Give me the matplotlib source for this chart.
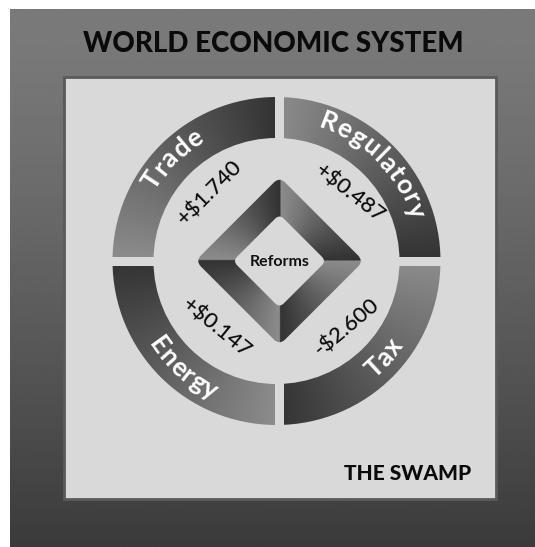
import numpy as np
import matplotlib
matplotlib.use("Agg")
import matplotlib.pyplot as plt
from matplotlib.patches import Circle, Rectangle, FancyBboxPatch
from matplotlib.font_manager import FontProperties
from matplotlib.textpath import TextToPath
from matplotlib.transforms import Affine2D

# data
categories = ["Trade", "Regulatory", "Tax", "Energy"]
impacts = [1.740, 0.487, -2.600, 0.147]
hub_label = "Reforms"
title = "WORLD ECONOMIC SYSTEM"
footer = "THE SWAMP"

# layout (pixels, y down)
W, H = 535, 547
cx, cy = 276.5, 261
r_out, r_in = 164, 123
gap_x, gap_y, gap = 279.5, 261, 9
dcx, dcy = 279.5, 261
label_ang = [135.5, 45, 318, 229]
label_top = [True, True, False, False]
value_pos = [(210, 193), (350, 194), (347, 327), (216, 328)]
value_rot = [45, -38, 40, -39]

panel_col = "#d9d9d9"
px = 100 / 72


def quad_shade(x, y, x0, y0, dark=0.2, light=0.55):
    phi = np.degrees(np.arctan2(y0 - y, x - x0)) % 360
    t = (phi % 90) / 90
    return dark + (light - dark) * t


def shaded(ax, x0, y0, half, clip, z):
    xs = np.arange(x0 - half, x0 + half + 1, 0.5)
    ys = np.arange(y0 - half, y0 + half + 1, 0.5)
    X, Y = np.meshgrid(xs, ys)
    im = ax.imshow(quad_shade(X, Y, x0, y0), cmap="gray", vmin=0, vmax=1,
                   extent=(xs[0], xs[-1], ys[-1], ys[0]), interpolation="bilinear", zorder=z)
    im.set_clip_path(clip)


def arc_text(ax, s, ang, r, top, size, spacing):
    fp = FontProperties(family="Lato", size=size, weight="bold")
    ttp = TextToPath()
    widths = [0.0] + [ttp.get_text_width_height_descent(s[:i], fp, ismath=False)[0] * px
                      for i in range(1, len(s) + 1)]
    total = widths[-1] + spacing * (len(s) - 1)
    for i, ch in enumerate(s):
        w = widths[i + 1] - widths[i]
        off = widths[i] + spacing * i + w / 2 - total / 2
        d = np.degrees(off / r)
        if top:
            phi = ang - d
            rot = phi - 90
        else:
            phi = ang + d
            rot = phi + 90
        x = cx + r * np.cos(np.radians(phi))
        y = cy - r * np.sin(np.radians(phi))
        ax.text(x, y, ch, rotation=rot, rotation_mode="anchor", ha="center", va="baseline",
                fontproperties=fp, color="white", zorder=6)


fig = plt.figure(figsize=(W / 100, H / 100), dpi=100)
ax = fig.add_axes([0, 0, 1, 1])

# outer frame with vertical gradient
fy = np.linspace(0, 1, 200)[:, None]
frame = 0.48 - 0.25 * fy ** 1.3
ax.imshow(np.repeat(frame, 2, axis=1), cmap="gray", vmin=0, vmax=1,
          extent=(10, W, H, 9), aspect="auto", interpolation="bilinear", zorder=0)

# light panel
ax.add_patch(Rectangle((64, 77), 432, 422, fc=panel_col, ec="#5a5a5a", lw=2, zorder=1))

# ring
ring_clip = Circle((cx, cy), r_out, transform=ax.transData)
shaded(ax, cx, cy, r_out + 2, ring_clip, 3)
ax.add_patch(Circle((cx, cy), r_in, fc=panel_col, ec="none", zorder=4))
ax.add_patch(Rectangle((gap_x - gap / 2, cy - r_out - 3), gap, 2 * r_out + 6, fc=panel_col, ec="none", zorder=4))
ax.add_patch(Rectangle((cx - r_out - 3, gap_y - gap / 2), 2 * r_out + 6, gap, fc=panel_col, ec="none", zorder=4))

# diamond
rot45 = Affine2D().rotate_deg_around(dcx, dcy, 45) + ax.transData
s_out, s_in = 119, 66
outer = FancyBboxPatch((dcx - s_out / 2, dcy - s_out / 2), s_out, s_out,
                       boxstyle="round,pad=0,rounding_size=8", transform=rot45, fc="none", ec="none")
ax.add_patch(outer)
shaded(ax, dcx, dcy, 90, outer, 4.5)
ax.add_patch(FancyBboxPatch((dcx - s_in / 2, dcy - s_in / 2), s_in, s_in,
                            boxstyle="round,pad=0,rounding_size=6", transform=rot45,
                            fc=panel_col, ec="none", zorder=5))
ax.text(dcx, dcy + 1, hub_label, ha="center", va="center", fontsize=11.5, family="Lato",
        weight="bold", color="#111111", zorder=6)

# labels
for name, ang, top in zip(categories, label_ang, label_top):
    r = 140 if top else 153
    arc_text(ax, name, ang, r, top, 19, 0.8)

for v, (x, y), rot in zip(impacts, value_pos, value_rot):
    txt = ("+" if v > 0 else "-") + "$" + f"{abs(v):.3f}"
    ax.text(x, y, txt, rotation=rot, rotation_mode="anchor", ha="center", va="center",
            fontsize=16, family="Lato", weight="medium", color="#0a0a0a", parse_math=False, zorder=6)

ax.text(273.5, 44, title, ha="center", va="center", fontsize=20, family="Lato",
        weight="black", color="#0a0a0a", zorder=6)
ax.text(408, 474, footer, ha="center", va="center", fontsize=15, family="Lato",
        weight="black", color="#0a0a0a", zorder=6)

ax.set_xlim(0, W)
ax.set_ylim(H, 0)
ax.axis("off")

fig.savefig("out.png", dpi=100, facecolor="white")
